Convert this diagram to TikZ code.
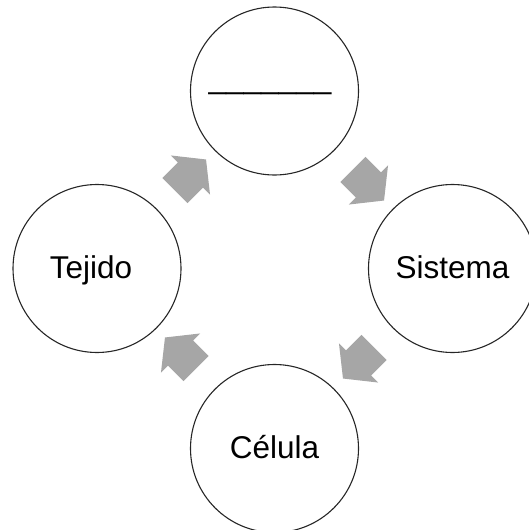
\documentclass[tikz,border=0pt]{standalone}
\usepackage{fontspec}
\setmainfont{Liberation Sans}
\usetikzlibrary{shapes.arrows}
\definecolor{flowgray}{RGB}{166,166,166}
\begin{document}
\begin{tikzpicture}[x=1pt, y=-1pt,
  level/.style={circle, draw=black!85, line width=1.1pt, minimum size=168pt, inner sep=0pt,
    font=\fontsize{31.5}{38}\selectfont, text height=23pt, text depth=4pt},
  flow/.style={single arrow, fill=flowgray, minimum height=44pt, minimum width=55pt,
    single arrow head extend=10pt, single arrow tip angle=103, inner xsep=0pt, inner ysep=17.5pt}]
\useasboundingbox (0,0) rectangle (528,530);
\node[level, text height=0pt, text depth=5pt] (organo) at (274.5,91){\_\_\_\_\_\_\_\hspace*{9pt}};
\node[level] (tejido) at (97,268.5){Tejido\hspace*{12pt}};
\node[level] (sistema) at (452.5,268.5){Sistema};
\node[level] (celula) at (274.5,448.5){Célula};
\node[flow, rotate=45] (f1) at (185.5,180){};
\node[flow, rotate=-45] (f2) at (363.5,180){};
\node[flow, rotate=-135] (f3) at (363.5,358){};
\node[flow, rotate=135] (f4) at (185.5,358){};
\end{tikzpicture}
\end{document}
